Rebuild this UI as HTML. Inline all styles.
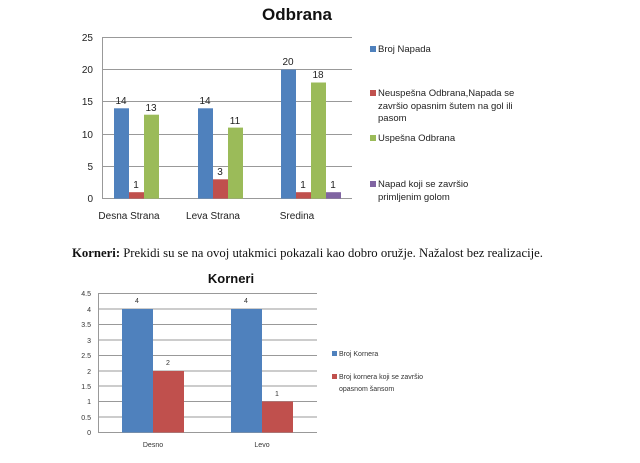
<!DOCTYPE html>
<html><head><meta charset="utf-8"><style>body{margin:0;background:#fff}svg{display:block}</style></head><body>
<svg width="640" height="463" xmlns="http://www.w3.org/2000/svg" font-family="Liberation Sans, sans-serif">
<rect width="640" height="463" fill="#fff"/>
<text x="297" y="20" font-size="17" font-weight="bold" text-anchor="middle" fill="#111">Odbrana</text>
<g stroke="#999" stroke-width="1">
<line x1="102" y1="37.5" x2="352" y2="37.5"/><line x1="102" y1="69.5" x2="352" y2="69.5"/><line x1="102" y1="101.5" x2="352" y2="101.5"/><line x1="102" y1="134.5" x2="352" y2="134.5"/><line x1="102" y1="166.5" x2="352" y2="166.5"/><line x1="102" y1="198.5" x2="352" y2="198.5"/><line x1="102.5" y1="37" x2="102.5" y2="199"/>
</g>
<g font-size="10" fill="#222" text-anchor="end">
<text x="93" y="41">25</text><text x="93" y="73">20</text><text x="93" y="105">15</text><text x="93" y="138">10</text><text x="93" y="170">5</text><text x="93" y="202">0</text>
</g>
<rect x="114" y="108.3" width="15" height="90.3" fill="#4f81bd"/>
<rect x="129" y="192.2" width="15" height="6.4" fill="#c0504d"/>
<rect x="144" y="114.7" width="15" height="83.9" fill="#9bbb59"/>
<rect x="198" y="108.3" width="15" height="90.3" fill="#4f81bd"/>
<rect x="213" y="179.3" width="15" height="19.3" fill="#c0504d"/>
<rect x="228" y="127.6" width="15" height="71" fill="#9bbb59"/>
<rect x="281" y="69.6" width="15" height="129" fill="#4f81bd"/>
<rect x="296" y="192.2" width="15" height="6.4" fill="#c0504d"/>
<rect x="311" y="82.5" width="15" height="116.1" fill="#9bbb59"/>
<rect x="326" y="192.2" width="15" height="6.4" fill="#8064a2"/>
<g font-size="10" fill="#222" text-anchor="middle">
<text x="121" y="104">14</text><text x="136" y="188">1</text><text x="151" y="111">13</text>
<text x="205" y="104">14</text><text x="220" y="175">3</text><text x="235" y="124">11</text>
<text x="288" y="65">20</text><text x="303" y="188">1</text><text x="318" y="78">18</text><text x="333" y="188">1</text>
<text x="129" y="219">Desna Strana</text><text x="213" y="219">Leva Strana</text><text x="297" y="219">Sredina</text>
</g>
<g font-size="9.5" fill="#222">
<rect x="370" y="46" width="6" height="6" fill="#4f81bd"/><text x="378" y="52">Broj Napada</text>
<rect x="370" y="90" width="6" height="6" fill="#c0504d"/><text x="378" y="96">Neuspešna Odbrana,Napada se</text><text x="378" y="109">završio opasnim šutem na gol ili</text><text x="378" y="121">pasom</text>
<rect x="370" y="135" width="6" height="6" fill="#9bbb59"/><text x="378" y="141">Uspešna Odbrana</text>
<rect x="370" y="181" width="6" height="6" fill="#8064a2"/><text x="378" y="187">Napad koji se završio</text><text x="378" y="200">primljenim golom</text>
</g>
<text x="72" y="257" font-family="Liberation Serif, serif" font-size="13" fill="#111" textLength="471" lengthAdjust="spacingAndGlyphs"><tspan font-weight="bold">Korneri:</tspan> Prekidi su se na ovoj utakmici pokazali kao dobro oružje. Nažalost bez realizacije.</text>
<text x="231" y="283" font-size="13" font-weight="bold" text-anchor="middle" fill="#111">Korneri</text>
<g stroke="#999" stroke-width="1">
<line x1="98" y1="293.5" x2="317" y2="293.5"/><line x1="98" y1="309" x2="317" y2="309"/><line x1="98" y1="324.5" x2="317" y2="324.5"/><line x1="98" y1="340" x2="317" y2="340"/><line x1="98" y1="355.5" x2="317" y2="355.5"/><line x1="98" y1="371" x2="317" y2="371"/><line x1="98" y1="386" x2="317" y2="386"/><line x1="98" y1="401.5" x2="317" y2="401.5"/><line x1="98" y1="417" x2="317" y2="417"/><line x1="98" y1="432.5" x2="317" y2="432.5"/><line x1="98.5" y1="293" x2="98.5" y2="433"/>
</g>
<g font-size="7" fill="#333" text-anchor="end">
<text x="91" y="296">4.5</text><text x="91" y="312">4</text><text x="91" y="327">3.5</text><text x="91" y="343">3</text><text x="91" y="358">2.5</text><text x="91" y="374">2</text><text x="91" y="389">1.5</text><text x="91" y="404">1</text><text x="91" y="420">0.5</text><text x="91" y="435">0</text>
</g>
<rect x="122" y="309" width="31" height="123.5" fill="#4f81bd"/>
<rect x="153" y="371" width="31" height="61.5" fill="#c0504d"/>
<rect x="231" y="309" width="31" height="123.5" fill="#4f81bd"/>
<rect x="262" y="401.5" width="31" height="31" fill="#c0504d"/>
<g font-size="7" fill="#333" text-anchor="middle">
<text x="137" y="303">4</text><text x="168" y="365">2</text><text x="246" y="303">4</text><text x="277" y="396">1</text>
<text x="153" y="447">Desno</text><text x="262" y="447">Levo</text>
</g>
<g font-size="7" fill="#333">
<rect x="332" y="351" width="5" height="5" fill="#4f81bd"/><text x="339" y="356">Broj Kornera</text>
<rect x="332" y="374" width="5" height="5" fill="#c0504d"/><text x="339" y="379">Broj kornera koji se završio</text><text x="339" y="391">opasnom šansom</text>
</g>
</svg>
</body></html>
